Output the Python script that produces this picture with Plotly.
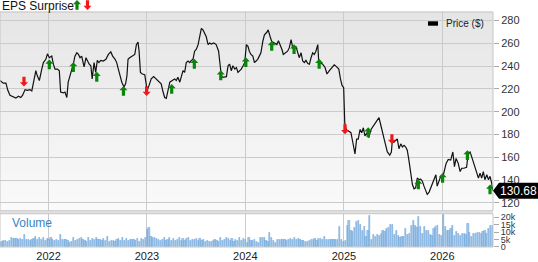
import plotly.graph_objects as go
import pandas as pd

# ---------------- data ----------------
price_dates = [
"2021-07-05","2021-07-17","2021-07-27","2021-08-03","2021-08-11","2021-08-23","2021-09-02","2021-09-11","2021-09-20","2021-09-27",
"2021-10-06","2021-10-14","2021-10-24","2021-10-31","2021-11-06","2021-11-15","2021-11-20","2021-11-28","2021-12-07","2021-12-13",
"2021-12-22","2021-12-28","2022-01-04","2022-01-13","2022-01-19","2022-01-25","2022-02-03","2022-02-10","2022-02-15","2022-02-25",
"2022-03-03","2022-03-10","2022-03-15","2022-03-22","2022-03-28","2022-04-03","2022-04-09","2022-04-16","2022-04-22","2022-04-28",
"2022-05-04","2022-05-13","2022-05-20","2022-05-26","2022-06-01","2022-06-07","2022-06-12","2022-06-19","2022-06-25","2022-07-01",
"2022-07-07","2022-07-14","2022-07-23","2022-08-02","2022-08-11","2022-08-20","2022-08-27","2022-09-05","2022-09-11","2022-09-17",
"2022-09-23","2022-09-30","2022-10-08","2022-10-14","2022-10-19","2022-10-23","2022-10-29","2022-11-08","2022-11-17","2022-11-23",
"2022-11-29","2022-12-03","2022-12-08","2022-12-15","2022-12-24","2022-12-30","2023-01-02","2023-01-09","2023-01-17","2023-01-26",
"2023-02-05","2023-02-15","2023-02-23","2023-03-02","2023-03-08","2023-03-14","2023-03-20","2023-03-27","2023-04-05","2023-04-14",
"2023-04-20","2023-04-26","2023-05-03","2023-05-09","2023-05-15","2023-05-21","2023-05-27","2023-06-03","2023-06-09","2023-06-15",
"2023-06-21","2023-06-27","2023-07-03","2023-07-10","2023-07-16","2023-07-22","2023-07-28","2023-08-04","2023-08-09","2023-08-16",
"2023-08-22","2023-08-28","2023-09-06","2023-09-15","2023-09-24","2023-09-28","2023-10-04","2023-10-10","2023-10-17","2023-10-23",
"2023-10-29","2023-11-04","2023-11-10","2023-11-16","2023-11-23","2023-11-29","2023-12-05","2023-12-11","2023-12-17","2023-12-24",
"2023-12-30","2024-01-05","2024-01-11","2024-01-16","2024-01-22","2024-01-29","2024-02-04","2024-02-10","2024-02-16","2024-02-22",
"2024-02-28","2024-03-06","2024-03-12","2024-03-21","2024-03-26","2024-04-02","2024-04-08","2024-04-18","2024-04-27","2024-05-03",
"2024-05-09","2024-05-16","2024-05-21","2024-05-29","2024-06-06","2024-06-12","2024-06-19","2024-06-25","2024-07-01","2024-07-07",
"2024-07-14","2024-07-19","2024-07-26","2024-08-01","2024-08-07","2024-08-13","2024-08-20","2024-08-26","2024-09-01","2024-09-07",
"2024-09-13","2024-09-19","2024-09-26","2024-09-29","2024-10-04","2024-10-14","2024-10-23","2024-10-30","2024-11-08","2024-11-18",
"2024-11-26","2024-12-05","2024-12-13","2024-12-19","2024-12-25","2024-12-31","2025-01-04","2025-01-09","2025-01-21","2025-01-27",
"2025-02-03","2025-02-11","2025-02-17","2025-02-23","2025-03-02","2025-03-08","2025-03-14","2025-03-20","2025-03-27","2025-04-03",
"2025-04-12","2025-04-21","2025-04-29","2025-05-05","2025-05-11","2025-05-17","2025-05-23","2025-05-30","2025-06-05","2025-06-11",
"2025-06-20","2025-06-26","2025-06-29","2025-07-06","2025-07-12","2025-07-18","2025-07-24","2025-07-31","2025-08-06","2025-08-12",
"2025-08-18","2025-08-24","2025-08-30","2025-09-06","2025-09-12","2025-09-18","2025-09-24","2025-09-30","2025-10-07","2025-10-13",
"2025-10-19","2025-10-25","2025-10-31","2025-11-06","2025-11-13","2025-11-19","2025-11-25","2025-12-01","2025-12-08","2025-12-13",
"2025-12-20","2025-12-26","2026-01-05","2026-01-15","2026-01-23","2026-02-01","2026-02-09","2026-02-15","2026-02-21","2026-03-01",
"2026-03-08","2026-03-14","2026-03-22","2026-04-01","2026-04-07","2026-04-14","2026-04-20","2026-04-26","2026-05-02","2026-05-09",
"2026-05-15","2026-05-21","2026-05-27","2026-06-02","2026-06-08","2026-06-15","2026-06-21","2026-06-27","2026-07-03","2026-07-07",
]
prices = [
227.4,225.1,225.1,218.8,214.5,213.0,211.9,213.6,212.5,214.5,
219.4,218.8,219.4,218.2,224.5,236.0,231.7,227.4,237.4,243.1,
246.0,250.8,247.4,248.8,241.7,237.4,237.4,236.0,217.3,216.5,
217.3,212.5,225.9,231.7,234.5,241.7,248.8,251.7,250.3,247.4,
248.8,239.4,247.4,244.5,241.7,240.3,228.8,243.1,234.5,245.1,
243.1,245.1,244.5,246.0,250.3,252.5,248.8,246.0,243.1,237.4,
231.7,225.9,221.6,224.5,231.7,246.0,247.4,248.8,250.3,258.9,
261.1,253.1,234.5,233.1,232.5,223.1,218.8,223.1,228.8,230.8,
228.8,226.8,224.5,217.3,212.5,211.7,218.8,225.9,227.4,228.8,
227.4,230.2,225.9,231.7,236.0,234.5,243.1,244.5,243.1,245.1,
246.0,253.1,254.6,258.9,267.5,273.1,271.8,267.5,266.0,258.9,
260.3,259.4,260.3,258.9,253.1,244.5,231.7,230.2,230.2,230.8,
240.3,241.7,236.0,240.3,237.4,238.8,234.5,236.0,237.4,240.3,
243.1,258.9,257.4,253.1,250.3,248.8,243.1,244.5,246.0,248.8,
251.7,261.7,267.5,269.7,271.8,266.0,261.7,260.3,258.9,262.3,
258.9,254.6,250.3,251.7,253.1,256.0,263.2,256.0,254.6,257.4,
250.3,247.4,251.7,244.5,243.1,245.1,242.2,241.7,247.4,251.7,
250.3,253.1,258.9,246.0,243.1,241.7,238.8,233.1,236.0,238.8,
241.1,239.4,237.4,228.8,223.1,221.1,190.2,184.5,183.0,181.6,
173.0,163.0,175.9,175.9,184.5,181.6,185.9,178.7,181.6,177.3,
184.7,187.6,190.5,192.4,194.8,189.0,181.9,176.1,170.5,164.7,
161.9,164.7,173.3,173.3,174.8,176.1,167.5,171.8,169.0,170.5,
169.0,166.2,157.6,146.1,136.1,132.4,133.2,141.8,140.4,140.9,
139.0,134.7,130.4,127.5,129.5,133.2,137.0,140.4,144.7,134.7,
139.0,143.3,144.7,154.7,158.1,157.6,164.7,151.8,159.0,154.7,
147.5,150.4,150.4,151.2,163.3,164.7,160.4,156.1,152.4,147.5,
141.8,146.1,141.8,147.5,140.4,144.7,140.4,143.3,137.5,130.68,
]

# EPS surprise events: date, price level, direction
eps_dates = ["2021-10-02","2022-01-04","2022-04-03","2022-06-29","2022-10-06","2022-12-31","2023-04-03",
             "2023-06-26","2023-10-02","2024-01-03","2024-04-08","2024-06-30","2024-10-01","2025-01-05",
             "2025-04-01","2025-06-28","2025-10-04","2026-01-02","2026-04-04","2026-06-27"]
eps_levels = [226.5,241.4,239.1,230.6,218.2,218.2,219.9,242.0,231.9,243.4,257.7,254.8,242.0,184.7,
              181.9,176.1,136.1,141.8,161.9,131.8]
eps_dir = ["down","up","up","up","up","down","up","up","up","up","up","up","up","down",
           "up","down","up","up","up","up"]

# weekly volume (thousands)
volume_start = "2021-07-05"
volume_k = [
3.2,3.8,4.2,4.5,3.9,4.4, 6.2,5.4,5.8,5.5, 5.0,5.8,4.6,8.5, 5.0,4.8,4.4,4.9,5.8,
6.6,4.8,6.4,5.0,6.4,4.3, 5.5,4.6,6.5,4.9,4.0,5.0, 4.5,8.5, 5.2,5.2,5.0,4.4,2.8,3.4,
6.0,4.0,5.2,5.6,6.0,5.2,4.5,3.8,6.2,4.3,5.5,4.6, 6.4,4.9,5.2,4.0,5.8,4.5,
6.7,3.8,4.4,4.1,3.5,4.8,5.3, 4.1,6.4,4.0,5.5,4.4,5.2,5.0,5.2,4.2,5.7,3.3,5.4,4.6,
6.0,11.5,12.8, 6.6,6.2,6.4,5.9,4.6,4.4,5.1,6.0,4.4,
5.0,6.2,4.2,5.4,4.5,5.2,6.0,4.0,5.6,4.4,5.8,6.4,4.2,5.0,4.6,5.8,4.5,
5.3,4.2,4.6,3.9,4.1,3.8,3.5,4.4,5.0,4.0,3.7,6.0,4.5,
5.0,6.0,5.4,4.2,5.5,3.6,5.0,4.4,6.2,4.0,5.4,4.8,3.2,6.3,
4.0,4.4,4.6,3.5,3.0,6.2, 6.2,6.0,4.2, 3.5,9.8,6.0,4.5,3.0,
4.8,4.6,4.8,4.6,4.8,4.5, 4.8,5.6,4.6,6.0,5.0,5.4, 4.6,4.5,4.2,3.5,3.6,4.5,
4.6,5.0,5.6,4.4,5.8,5.6, 4.6,7.2,5.0,4.6,5.2,5.0, 5.0,4.8,5.0,13.5,5.0,3.5,4.2,
14.0,17.5,11.0,10.5,13.0,17.0,17.5,15.0,10.8,13.8, 7.0,11.0,21.0,5.0,8.2,6.8,8.0,7.5,
9.0,11.0,10.5,12.0,13.0,14.7, 14.7,8.2,11.0,7.6,6.5, 7.0,6.6,12.0,8.0,9.0,14.2,17.5,14.2,
13.1,20.2,13.6,8.7,13.6,10.9,10.9,8.5,7.6,12.0,13.6,14.2,8.2,7.6,21.6,13.6,10.9,10.9,12.0,14.2,
7.6,10.5,8.7,7.6,9.0,8.7,8.0,15.8,9.6,7.0,8.7,9.2,9.6,9.6,9.0,10.3,10.9,8.7,12.0,14.2,14.5,
]
price_ticks = [120, 140, 160, 180, 200, 220, 240, 260, 280]
vol_tickvals = [0, 5, 10, 15, 20]
vol_ticktext = ["0", "5k", "10k", "15k", "20k"]
last_price = prices[-1]

# ---------------- layout constants ----------------
W, H = 538, 262
ML, MR, MT, MB = 0, 45, 12, 10
plot_w = W - ML - MR
plot_h = H - MT - MB
def py(px_from_top):
    return (H - MB - px_from_top) / plot_h
def pxx(px_from_left):
    return (px_from_left - ML) / plot_w

price_dom = [py(215), 1.0]
vol_dom = [0.0, py(218)]
price_range = [113.1, 287.5]
vol_range = [0, 22.4]
x_range = ["2021-07-05", "2026-07-08"]
FONT = "Liberation Sans, Arial, sans-serif"

vol_dates = pd.date_range(volume_start, periods=len(volume_k), freq="7D")

fig = go.Figure()
fig.add_trace(go.Bar(
    x=vol_dates, y=volume_k, xaxis="x", yaxis="y2",
    width=4.6 * 86400000,
    marker=dict(color="#a7c9ea", line=dict(color="#5c9dd6", width=0.5)),
    showlegend=False, hoverinfo="skip"))
fig.add_trace(go.Scatter(
    x=price_dates, y=prices, xaxis="x", yaxis="y", mode="lines",
    line=dict(color="#111111", width=1.2), showlegend=False))

shapes = []
# gradient background for price panel
N = 30
for i in range(N):
    f0 = price_dom[0] + (price_dom[1] - price_dom[0]) * i / N
    f1 = price_dom[0] + (price_dom[1] - price_dom[0]) * (i + 1) / N
    t = (i + 0.5) / N  # 0 bottom, 1 top
    c = int(round(250 - 21 * t))
    shapes.append(dict(type="rect", xref="paper", yref="paper", x0=0, x1=1, y0=f0, y1=f1 + 0.002,
                       fillcolor=f"rgb({c},{c},{c})", line=dict(width=0), layer="below"))
# separator band
shapes.append(dict(type="rect", xref="paper", yref="paper", x0=0, x1=1, y0=vol_dom[1], y1=price_dom[0],
                   fillcolor="#e2e2e2", line=dict(width=0), layer="below"))
# borders
for d in (price_dom, vol_dom):
    shapes.append(dict(type="rect", xref="paper", yref="paper", x0=0, x1=1, y0=d[0], y1=d[1],
                       fillcolor="rgba(0,0,0,0)", line=dict(color="#c6c6c6", width=1), layer="above"))

UP = "M0,5L4,0.8L1.6,0.8L1.6,-4.8L-1.6,-4.8L-1.6,0.8L-4,0.8Z"
DOWN = "M0,-5L4,-0.8L1.6,-0.8L1.6,4.8L-1.6,4.8L-1.6,-0.8L-4,-0.8Z"
GREEN, RED = "#0a850a", "#f01818"
for d, lv, dr in zip(eps_dates, eps_levels, eps_dir):
    shapes.append(dict(type="path", xref="x", yref="y", xsizemode="pixel", ysizemode="pixel",
                       xanchor=d, yanchor=lv, path=UP if dr == "up" else DOWN,
                       fillcolor=GREEN if dr == "up" else RED, line=dict(width=0), layer="above"))
# header arrows
shapes.append(dict(type="path", xref="paper", yref="paper", xsizemode="pixel", ysizemode="pixel",
                   xanchor=pxx(77), yanchor=py(4.8), path=UP, fillcolor=GREEN, line=dict(width=0)))
shapes.append(dict(type="path", xref="paper", yref="paper", xsizemode="pixel", ysizemode="pixel",
                   xanchor=pxx(87.5), yanchor=py(4.8), path=DOWN, fillcolor=RED, line=dict(width=0)))
# legend swatch
shapes.append(dict(type="rect", xref="paper", yref="paper", x0=pxx(428), x1=pxx(438), y0=py(26), y1=py(21.5),
                   fillcolor="#000000", line=dict(width=0)))
# last-price tag
last_paper = price_dom[0] + (last_price - price_range[0]) / (price_range[1] - price_range[0]) * (price_dom[1] - price_dom[0])
shapes.append(dict(type="path", xref="paper", yref="paper", xsizemode="pixel", ysizemode="pixel",
                   xanchor=1, yanchor=last_paper, path="M0,0L6,8L46,8L46,-8L6,-8Z",
                   fillcolor="#000000", line=dict(width=0)))

annotations = [
    dict(text="EPS Surprise", xref="paper", yref="paper", x=pxx(0), y=py(5.5), xanchor="left", yanchor="middle",
         showarrow=False, font=dict(size=12, color="#111111", family=FONT)),
    dict(text="Volume", xref="paper", yref="paper", x=pxx(10), y=py(227), xanchor="left", yanchor="middle",
         showarrow=False, font=dict(size=12, color="#3a83c6", family=FONT)),
    dict(text="Price ($)", xref="paper", yref="paper", x=pxx(444), y=py(24), xanchor="left", yanchor="middle",
         showarrow=False, font=dict(size=10, color="#222222", family=FONT)),
    dict(text=f"{last_price:.2f}", xref="paper", yref="paper", x=pxx(518.5), y=last_paper, xanchor="center",
         yanchor="middle", showarrow=False, font=dict(size=12, color="#ffffff", family=FONT)),
]

fig.update_layout(
    width=W, height=H, margin=dict(l=ML, r=MR, t=MT, b=MB),
    paper_bgcolor="#ffffff", plot_bgcolor="rgba(0,0,0,0)",
    font=dict(family=FONT, size=11, color="#333333"),
    bargap=0,
    xaxis=dict(type="date", range=x_range, anchor="y2", tickformat="%Y", dtick="M12", tick0="2022-01-01",
               showgrid=True, gridcolor="#cbcbcb", gridwidth=1, ticks="", showline=False, zeroline=False,
               tickfont=dict(size=11, color="#222222"), ticklabelstandoff=1),
    yaxis=dict(domain=price_dom, anchor="x", side="right", range=price_range, tickvals=price_ticks,
               showgrid=True, gridcolor="#cbcbcb", gridwidth=1, ticks="outside", ticklen=5, tickcolor="#aaaaaa",
               showline=False, zeroline=False, tickfont=dict(size=11, color="#333333")),
    yaxis2=dict(domain=vol_dom, anchor="x", side="right", range=vol_range, tickvals=vol_tickvals,
                ticktext=vol_ticktext, showgrid=False, ticks="outside", ticklen=5, tickcolor="#aaaaaa",
                showline=False, zeroline=False, tickfont=dict(size=9, color="#333333")),
    shapes=shapes, annotations=annotations, showlegend=False,
)
fig.write_html("out.html")
